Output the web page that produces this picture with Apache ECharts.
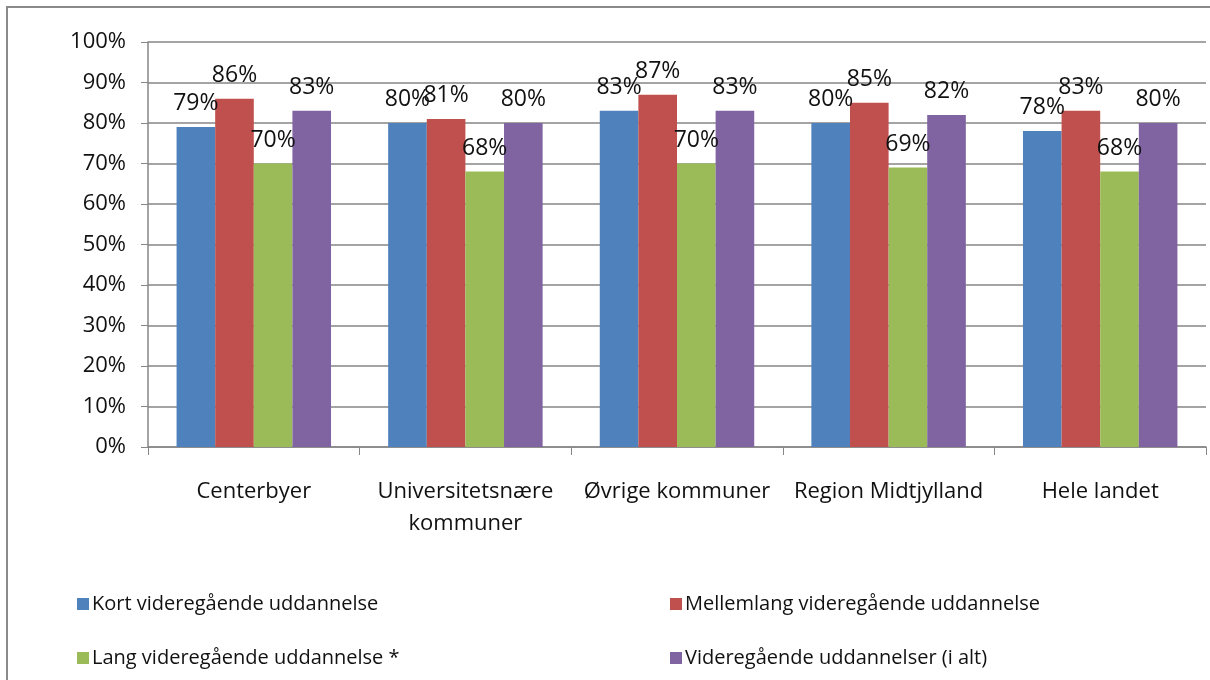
<!DOCTYPE html>
<html>
<head>
<meta charset="utf-8">
<script src="https://cdn.jsdelivr.net/npm/echarts@6/dist/echarts.min.js"></script>
<style>
  html, body { margin: 0; padding: 0; background: #fff; }
  #chart { width: 1210px; height: 680px; }
</style>
</head>
<body>
<div id="chart"></div>
<script>
    var categories = ['Centerbyer', 'Universitetsnære\nkommuner', 'Øvrige kommuner', 'Region Midtjylland', 'Hele landet'];
    var seriesNames = [
        'Kort videregående uddannelse',
        'Mellemlang videregående uddannelse',
        'Lang videregående uddannelse *',
        'Videregående uddannelser (i alt)'
    ];
    var kortValues = [79, 80, 83, 80, 78];
    var mellemValues = [86, 81, 87, 85, 83];
    var langValues = [70, 68, 70, 69, 68];
    var iAltValues = [83, 80, 83, 82, 80];
    var yTicks = [0, 10, 20, 30, 40, 50, 60, 70, 80, 90, 100];

    var colors = ['#4F81BD', '#C0504D', '#9BBB59', '#8064A2'];
    var fontFamily = '"Open Sans", "Noto Sans", sans-serif';
    var allValues = [kortValues, mellemValues, langValues, iAltValues];

    var chart = echarts.init(document.getElementById('chart'));

    var series = [];
    for (var i = 0; i < seriesNames.length; i++) {
        series.push({
            name: seriesNames[i],
            type: 'bar',
            data: allValues[i],
            barGap: '0%',
            barCategoryGap: '27%',
            itemStyle: { color: colors[i] },
            label: {
                show: true,
                position: 'top',
                distance: 12,
                color: '#111',
                fontSize: 23,
                fontFamily: fontFamily,
                formatter: '{c}%'
            }
        });
    }

    var legendStyle = {
        icon: 'rect',
        itemWidth: 12,
        itemHeight: 12,
        itemGap: 34,
        orient: 'vertical',
        textStyle: { fontSize: 20, color: '#111', fontFamily: fontFamily, padding: [0, 0, 0, -2] }
    };

    chart.setOption({
        backgroundColor: '#fff',
        animation: false,
        color: colors,
        graphic: [{
            type: 'rect',
            shape: { x: 7, y: 7, width: 1220, height: 700 },
            style: { fill: 'none', stroke: '#8a8a8a', lineWidth: 2 },
            silent: true
        }],
        legend: [
            Object.assign({ left: 72, top: 589, data: [seriesNames[0], seriesNames[2]] }, legendStyle),
            Object.assign({ left: 665, top: 589, data: [seriesNames[1], seriesNames[3]] }, legendStyle)
        ],
        grid: { left: 148, right: 4, top: 42, bottom: 233 },
        xAxis: {
            type: 'category',
            data: categories,
            axisLine: { lineStyle: { color: '#868686', width: 1.5 } },
            axisTick: { show: true, length: 8, inside: false, lineStyle: { color: '#868686' } },
            axisLabel: {
                color: '#111',
                fontSize: 22,
                fontFamily: fontFamily,
                margin: 29,
                lineHeight: 32,
                interval: 0
            }
        },
        yAxis: {
            type: 'value',
            min: 0,
            max: 100,
            interval: 10,
            axisLine: { show: true, lineStyle: { color: '#868686', width: 1.5 } },
            axisTick: { show: true, length: 7, lineStyle: { color: '#868686' } },
            splitLine: { lineStyle: { color: '#868686', width: 1.5 } },
            axisLabel: {
                color: '#111',
                fontSize: 22,
                fontFamily: fontFamily,
                margin: 22,
                customValues: yTicks,
                formatter: '{value}%'
            }
        },
        series: series
    });
</script>
</body>
</html>
